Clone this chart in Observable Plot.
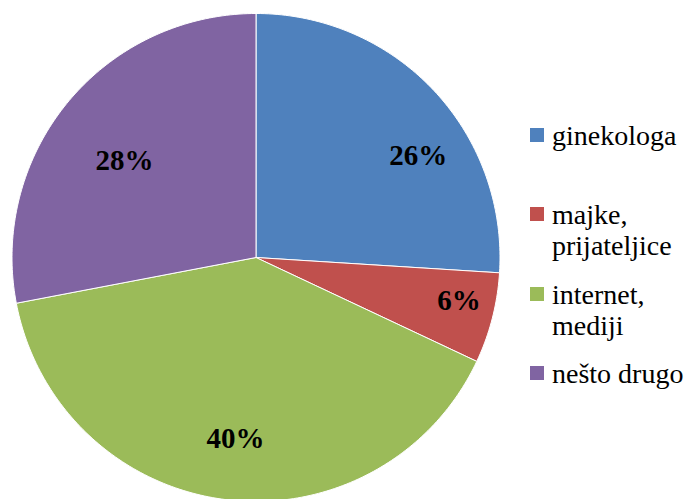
<!DOCTYPE html>
<html>
<head>
<meta charset="utf-8">
<script src="https://cdn.jsdelivr.net/npm/d3@7"></script>
<script src="https://cdn.jsdelivr.net/npm/@observablehq/plot@0.6"></script>
<style>
  html, body { margin: 0; padding: 0; background: #fff; }
  #wrap { position: relative; width: 691px; height: 499px; overflow: hidden; font-family: "Liberation Serif", "Times New Roman", Times, Tinos, "DejaVu Serif", serif; }
  #wrap svg { position: absolute; left: 0; top: 0; }
  .legend-item { position: absolute; left: 530px; }
  .legend-item .sw { position: absolute; left: 0; width: 14px; height: 14px; }
  .legend-item .tx { position: absolute; left: 22px; font-size: 28px; line-height: 31px; white-space: nowrap; color: #000; }
  .pct text { font-family: "Liberation Serif", "Times New Roman", Times, Tinos, "DejaVu Serif", serif !important; }
</style>
</head>
<body>
<div id="wrap"></div>
<script>
// ---- data ----
const categories = ["ginekologa", "majke, prijateljice", "internet, mediji", "nešto drugo"];
const legendLines = [["ginekologa"], ["majke,", "prijateljice"], ["internet,", "mediji"], ["nešto drugo"]];
const values = [26, 6, 40, 28];
const labels = ["26%", "6%", "40%", "28%"];
const colors = ["#4F81BD", "#C0504D", "#9BBB59", "#8064A2"];

// ---- layout ----
const W = 691, H = 499;
const CX = 255.5, CY = 257, R = 244;           // pie centre & radius in pixels
const labelAngleShift = [11, -2.5, -0.7, -3.2]; // degrees (best-fit placement)
const labelRadius = [0.786, 0.85, 0.746, 0.67];  // fraction of radius
const legendTop = 135, legendStep = 79.3;
const serif = "'Liberation Serif', 'Times New Roman', Times, Tinos, 'DejaVu Serif', serif";

const data = categories.map((c, i) => ({cat: c, value: values[i], label: labels[i]}));
const arcs = d3.pie().sort(null).value(d => d.value)(data);

// polygon outline for each slice (centre -> arc -> centre)
const poly = [];
arcs.forEach(a => {
  const n = Math.max(8, Math.ceil((a.endAngle - a.startAngle) / (Math.PI / 180)));
  poly.push({cat: a.data.cat, x: 0, y: 0});
  for (let k = 0; k <= n; k++) {
    const t = a.startAngle + (a.endAngle - a.startAngle) * k / n;
    poly.push({cat: a.data.cat, x: Math.sin(t), y: Math.cos(t)});
  }
  poly.push({cat: a.data.cat, x: 0, y: 0});
});

const labelData = arcs.map((a, i) => {
  const mid = (a.startAngle + a.endAngle) / 2 + labelAngleShift[i] * Math.PI / 180;
  return {label: a.data.label, x: labelRadius[i] * Math.sin(mid), y: labelRadius[i] * Math.cos(mid)};
});

const chart = Plot.plot({
  width: W,
  height: H,
  margin: 0,
  x: {domain: [-CX / R, (W - CX) / R], range: [0, W], axis: null},
  y: {domain: [-(H - CY) / R, CY / R], range: [H, 0], axis: null},
  color: {domain: categories, range: colors},
  style: {background: "white", overflow: "visible", fontFamily: serif},
  marks: [
    Plot.line(poly, {x: "x", y: "y", z: "cat", fill: "cat", stroke: "white", strokeWidth: 1, strokeLinejoin: "round"}),
    Plot.text(labelData, {
      x: "x", y: "y", text: "label",
      fontSize: 29, fontWeight: "bold",
      fontFamily: serif, className: "pct",
      fill: "black", textAnchor: "middle", lineAnchor: "middle"
    })
  ]
});

const wrap = document.getElementById("wrap");
wrap.appendChild(chart);

// legend
categories.forEach((c, i) => {
  const cy = legendTop + legendStep * i;
  const item = document.createElement("div");
  item.className = "legend-item";
  item.style.top = (cy - 7) + "px";
  const sw = document.createElement("div");
  sw.className = "sw";
  sw.style.top = "0px";
  sw.style.background = colors[i];
  const tx = document.createElement("div");
  tx.className = "tx";
  tx.style.top = "-8px";
  tx.innerHTML = legendLines[i].map(s => s.replace(/&/g, "&amp;").replace(/</g, "&lt;")).join("<br>");
  item.appendChild(sw);
  item.appendChild(tx);
  wrap.appendChild(item);
});
</script>
</body>
</html>
